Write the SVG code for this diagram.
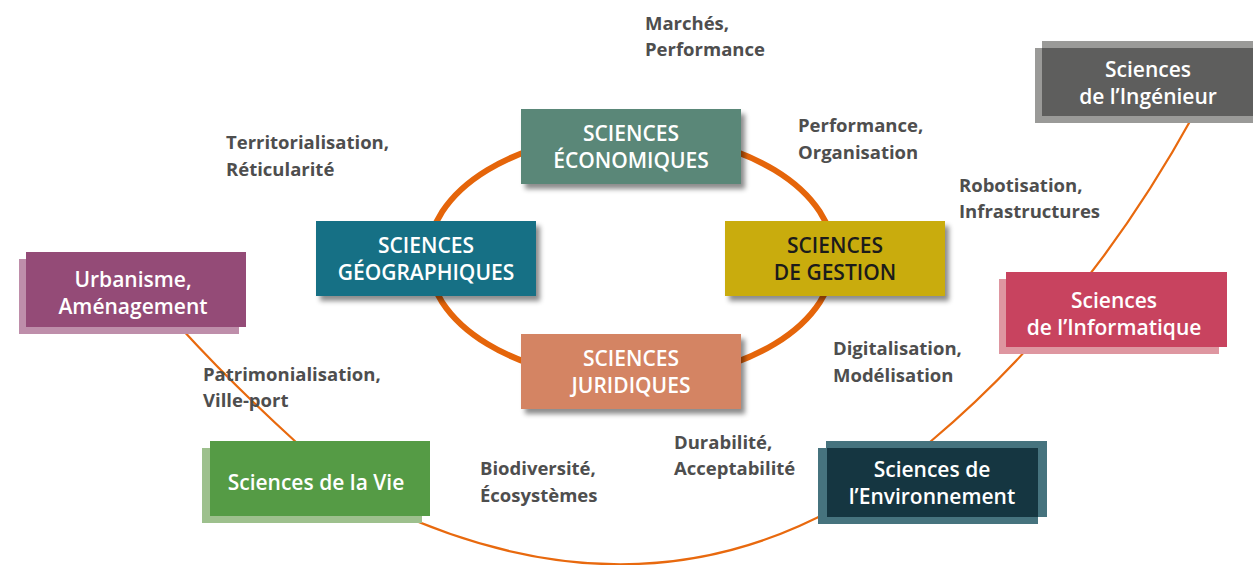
<svg xmlns="http://www.w3.org/2000/svg" width="1253" height="565" viewBox="0 0 1253 565">
<style>
.box{font-family:"Open Sans","Noto Sans",sans-serif;font-weight:600;font-size:21px;text-anchor:middle;fill:#ffffff}
.lbl{font-family:"Open Sans","Noto Sans",sans-serif;font-weight:700;font-size:18.5px;fill:#4e4e4e}
.conn{fill:none;stroke:#E8690E;stroke-width:2.2}
</style>
<defs>
<filter id="ds" x="-10%" y="-20%" width="130%" height="150%">
<feDropShadow dx="4" dy="5" stdDeviation="2.5" flood-color="#000" flood-opacity="0.45"/>
</filter>
</defs>
<rect width="1253" height="565" fill="#ffffff"/>
<g id="connectors">
<ellipse cx="631" cy="257" rx="203" ry="123" fill="none" stroke="#E5650A" stroke-width="6"/>
<path class="conn" d="M180 327 Q232 384 297 443"/>
<path class="conn" d="M380 505 Q635 626 850 500"/>
<path class="conn" d="M930 442 Q1085 312 1193 116"/>
</g>
<g id="labels">
<text class="lbl" x="645" y="30">Marchés,</text>
<text class="lbl" x="645" y="56">Performance</text>
<text class="lbl" x="226" y="149">Territorialisation,</text>
<text class="lbl" x="226" y="176">Réticularité</text>
<text class="lbl" x="798" y="132">Performance,</text>
<text class="lbl" x="798" y="159">Organisation</text>
<text class="lbl" x="959" y="192">Robotisation,</text>
<text class="lbl" x="959" y="218">Infrastructures</text>
<text class="lbl" x="833" y="355">Digitalisation,</text>
<text class="lbl" x="833" y="382">Modélisation</text>
<text class="lbl" x="203" y="381">Patrimonialisation,</text>
<text class="lbl" x="203" y="407">Ville-port</text>
<text class="lbl" x="674" y="449">Durabilité,</text>
<text class="lbl" x="674" y="475">Acceptabilité</text>
<text class="lbl" x="480" y="475">Biodiversité,</text>
<text class="lbl" x="480" y="502">Écosystèmes</text>
</g>
<g id="eco">
<rect x="521" y="109" width="220" height="75" fill="#5A8778" filter="url(#ds)"/>
<text class="box" x="631" y="141">SCIENCES</text>
<text class="box" x="631" y="168">ÉCONOMIQUES</text>
</g>
<g id="geo">
<rect x="316" y="221" width="220" height="75" fill="#186F85" filter="url(#ds)"/>
<text class="box" x="426" y="253">SCIENCES</text>
<text class="box" x="426" y="280">GÉOGRAPHIQUES</text>
</g>
<g id="gestion">
<rect x="725" y="221" width="220" height="75" fill="#C9AC08" filter="url(#ds)"/>
<text class="box" x="835" y="253" style="fill:#1b1b1b">SCIENCES</text>
<text class="box" x="835" y="280" style="fill:#1b1b1b">DE GESTION</text>
</g>
<g id="juridiques">
<rect x="521" y="334" width="220" height="75" fill="#D48463" filter="url(#ds)"/>
<text class="box" x="631" y="366">SCIENCES</text>
<text class="box" x="631" y="393">JURIDIQUES</text>
</g>
<g id="urbanisme">
<rect x="19" y="259" width="220" height="75" fill="#BE8EAA"/>
<rect x="26" y="252" width="220" height="75" fill="#944B77"/>
<text class="box" x="133" y="287">Urbanisme,</text>
<text class="box" x="133" y="314">Aménagement</text>
</g>
<g id="vie">
<rect x="202" y="448" width="220" height="75" fill="#9DC08D"/>
<rect x="210" y="441" width="220" height="75" fill="#559B45"/>
<text class="box" x="316" y="490">Sciences de la Vie</text>
</g>
<g id="environnement">
<rect x="826" y="441" width="221" height="76" fill="#46737E"/>
<rect x="818" y="448" width="220" height="76" fill="#46737E"/>
<rect x="827" y="448" width="211" height="69" fill="#153641"/>
<text class="box" x="932" y="477">Sciences de</text>
<text class="box" x="932" y="504">l’Environnement</text>
</g>
<g id="informatique">
<rect x="999" y="279" width="220" height="75" fill="#DE96A0"/>
<rect x="1006" y="272" width="221" height="75" fill="#C8435F"/>
<text class="box" x="1114" y="308">Sciences</text>
<text class="box" x="1114" y="335">de l’Informatique</text>
</g>
<g id="ingenieur">
<rect x="1042" y="41" width="220" height="75" fill="#9A9A98"/>
<rect x="1035" y="48" width="220" height="75" fill="#9A9A98"/>
<rect x="1042" y="48" width="213" height="68" fill="#5E5E5D"/>
<text class="box" x="1148" y="77">Sciences</text>
<text class="box" x="1148" y="104">de l’Ingénieur</text>
</g>
</svg>
